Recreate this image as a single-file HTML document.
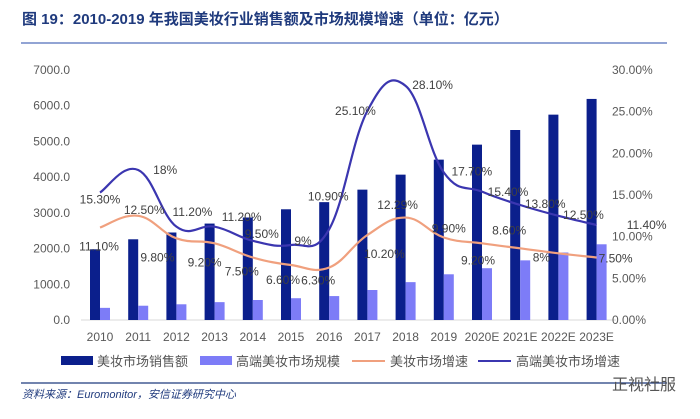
<!DOCTYPE html>
<html><head><meta charset="utf-8"><style>
body{margin:0;background:#fff;width:700px;height:414px;overflow:hidden;font-family:"Liberation Sans","Noto Sans CJK SC",sans-serif}
svg text{font-family:"Liberation Sans","Noto Sans CJK SC",sans-serif}
</style></head><body>
<svg id="chart" width="700" height="414" xmlns="http://www.w3.org/2000/svg">
<text x="22" y="24" font-size="15" font-weight="bold" fill="#1f3a7d">图  19：2010-2019 年我国美妆行业销售额及市场规模增速（单位：亿元）</text>
<line x1="21" y1="43" x2="667" y2="43" stroke="#6f86c6" stroke-width="1.5"/>
<g id="plot"></g>
<g font-size="13" fill="#555">
<rect x="61" y="356" width="32" height="9" fill="#0b1f8c"/>
<text x="97" y="366">美妆市场销售额</text>
<rect x="200" y="356" width="32" height="9" fill="#7d7cf7"/>
<text x="236" y="366">高端美妆市场规模</text>
<line x1="352" y1="361" x2="385" y2="361" stroke="#f0a07e" stroke-width="2"/>
<text x="390" y="366">美妆市场增速</text>
<line x1="478" y1="361" x2="511" y2="361" stroke="#3b36b0" stroke-width="2"/>
<text x="516" y="366">高端美妆市场增速</text>
</g>
<line x1="21" y1="383" x2="667" y2="383" stroke="#1f3a7d" stroke-width="1.2"/>
<text x="22" y="398" font-size="11" font-style="italic" fill="#1f3a7d">资料来源：Euromonitor，安信证券研究中心</text>
<text x="612" y="390" font-size="16" fill="#555">正视社服</text>
</svg>
<script>
const categories=["2010","2011","2012","2013","2014","2015","2016","2017","2018","2019","2020E","2021E","2022E","2023E"];
const salesValues=[1980,2260,2450,2700,2870,3100,3300,3650,4070,4490,4910,5320,5750,6190];
const highEndValues=[340,400,440,500,560,610,670,840,1060,1280,1450,1670,1890,2120];
const marketGrowth=[11.10,12.50,9.80,9.20,7.50,6.60,6.30,10.20,12.29,9.90,9.20,8.60,8,7.50];
const highEndGrowth=[15.30,18,11.20,11.20,9.50,9,10.90,25.10,28.10,17.70,15.40,13.80,12.50,11.40];
const marketGrowthLabels=["11.10%","12.50%","9.80%","9.20%","7.50%","6.60%","6.30%","10.20%","12.29%","9.90%","9.20%","8.60%","8%","7.50%"];
const highEndGrowthLabels=["15.30%","18%","11.20%","11.20%","9.50%","9%","10.90%","25.10%","28.10%","17.70%","15.40%","13.80%","12.50%","11.40%"];
const leftTicks=[0,1000,2000,3000,4000,5000,6000,7000];
const rightTicks=[0,5,10,15,20,25,30];
const mgOff=[[-1,20],[6,-5],[-19,20],[-10,20],[-11,15],[-8,16],[-11,14],[17,20],[-8,-12],[5,-8],[-4,18],[-11,-17],[-17,5],[19,2]];
const hgOff=[[0,8],[27,1],[16,-14],[27,-9],[9,-6],[12,-3],[-1,-32],[-12,1],[27,0],[28,0],[26,1],[25,0],[25,0],[50,1]];
const NS="http://www.w3.org/2000/svg";
const g=document.getElementById('plot');
const X0=100,DX=38.2,Y0=320,H=250;
const xs=i=>X0+DX*i;
const yL=v=>Y0-v/7000*H;
const yR=v=>Y0-v/30*H;
function el(t,a){const e=document.createElementNS(NS,t);for(const k in a)e.setAttribute(k,a[k]);g.appendChild(e);return e;}
let ax=el('line',{x1:81,y1:Y0,x2:616,y2:Y0,stroke:'#d9d9d9','stroke-width':1});


leftTicks.forEach(v=>{const t=el('text',{x:70,y:yL(v)+4,'text-anchor':'end','font-size':12,fill:'#595959'});t.textContent=v.toFixed(1);

});
rightTicks.forEach(v=>{const t=el('text',{x:612,y:yR(v)+4,'font-size':12,fill:'#595959'});t.textContent=v.toFixed(2)+'%';

});
categories.forEach((c,i)=>{const t=el('text',{x:xs(i),y:Y0+21,'text-anchor':'middle','font-size':12,fill:'#595959'});t.textContent=c;


let b=el('rect',{x:xs(i)-10,y:yL(salesValues[i]),width:10,height:Y0-yL(salesValues[i]),fill:'#0b1f8c'});


let b2=el('rect',{x:xs(i),y:yL(highEndValues[i]),width:10,height:Y0-yL(highEndValues[i]),fill:'#7d7cf7'});

});
function smooth(vals){const p=vals.map((v,i)=>[xs(i),yR(v)]);let d='M'+p[0][0]+','+p[0][1];
for(let i=0;i<p.length-1;i++){const p0=p[i-1]||p[i],p1=p[i],p2=p[i+1],p3=p[i+2]||p2;const t=0.6/3;
d+=' C'+(p1[0]+(p2[0]-p0[0])*t)+','+(p1[1]+(p2[1]-p0[1])*t)+' '+(p2[0]-(p3[0]-p1[0])*t)+','+(p2[1]-(p3[1]-p1[1])*t)+' '+p2[0]+','+p2[1];}return d;}
let l1=el('path',{d:smooth(marketGrowth),fill:'none',stroke:'#f0a07e','stroke-width':2.2});


let l2=el('path',{d:smooth(highEndGrowth),fill:'none',stroke:'#3b36b0','stroke-width':2.2});


function labels(vals,txt,off,name){vals.forEach((v,i)=>{const t=el('text',{x:xs(i)+off[i][0],y:yR(v)+off[i][1],'text-anchor':'middle','dominant-baseline':'middle','font-size':12,fill:'#404040'});t.textContent=txt[i];

});}
labels(marketGrowth,marketGrowthLabels,mgOff,'market-growth-label');
labels(highEndGrowth,highEndGrowthLabels,hgOff,'highend-growth-label');
</script>
</body></html>
